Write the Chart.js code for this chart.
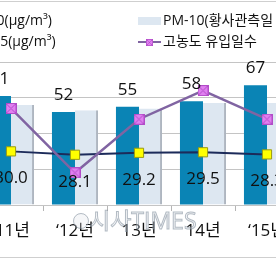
<!DOCTYPE html>
<html lang="ko">
<head>
<meta charset="UTF-8">
<title>PM-10 / PM-2.5</title>
<script src="https://cdn.jsdelivr.net/npm/chart.js"></script>
<style>
    body { margin: 0; width: 276px; height: 260px; overflow: hidden; background: #fff; position: relative; }
    #wrap { position: absolute; left: -21px; top: 0; width: 320px; height: 260px; }
    .rule { position: absolute; left: 0; width: 276px; height: 1px; background: #cfcfcf; }
</style>
</head>
<body>
<div class="rule" style="top:1px"></div>
<div id="wrap"><canvas id="chart" width="320" height="260"></canvas></div>
<div class="rule" style="top:257px"></div>

<script>
// data
const years = ['‘11년', '‘12년', '13년', '14년', '‘15년'];
const pm10 = [61, 52, 55, 58, 67];
const pm10NoDust = [56, 53, 54, 57, 57];
const pm25 = [30.0, 28.1, 29.2, 29.5, 28.3];
const highDays = [13.5, 4.5, 12, 16, 12];

const OFF = 21;   // canvas starts 21px left of the page
const FONT = "'Open Sans', 'Noto Sans CJK KR', sans-serif";

// magenta square with an X, for the 고농도 line
function xMarker() {
    const c = document.createElement('canvas');
    c.width = 11; c.height = 11;
    const g = c.getContext('2d');
    g.fillStyle = '#e07ff0';
    g.fillRect(0, 0, 11, 11);
    g.strokeStyle = '#b24cc8';
    g.lineWidth = 1;
    g.strokeRect(0.5, 0.5, 10, 10);
    g.beginPath();
    g.moveTo(1, 1); g.lineTo(10, 10);
    g.moveTo(10, 1); g.lineTo(1, 10);
    g.stroke();
    return c;
}
const mark = xMarker();

const valueLabels = {
    id: 'valueLabels',
    afterDatasetsDraw(chart) {
        const ctx = chart.ctx;
        ctx.save();
        ctx.font = '17px ' + FONT;
        ctx.fillStyle = '#111';
        ctx.textAlign = 'center';
        ctx.textBaseline = 'middle';
        chart.getDatasetMeta(0).data.forEach((el, i) => {
            ctx.fillText(pm10[i], el.x, el.y - 17);
        });
        chart.getDatasetMeta(2).data.forEach((el, i) => {
            ctx.fillText(pm25[i].toFixed(1), el.x, el.y + 27);
        });
        ctx.restore();
    }
};

const legendAndMark = {
    id: 'legendAndMark',
    afterDraw(chart) {
        const ctx = chart.ctx;
        ctx.save();
        ctx.font = '14px ' + FONT;
        ctx.fillStyle = '#111';
        ctx.textBaseline = 'middle';
        const ds = chart.data.datasets;

        // left column
        const w1 = ctx.measureText(ds[0].label).width;
        const lx = 52 + OFF - w1;
        ctx.fillStyle = ds[0].backgroundColor;
        ctx.fillRect(lx - 26, 17, 23, 8);
        ctx.fillStyle = '#111';
        ctx.fillText(ds[0].label, lx, 21);
        ctx.strokeStyle = ds[2].borderColor;
        ctx.lineWidth = 2;
        ctx.beginPath(); ctx.moveTo(lx - 26, 42); ctx.lineTo(lx - 3, 42); ctx.stroke();
        ctx.fillText(ds[2].label, lx, 42);

        // right column
        const rx = 138 + OFF;
        ctx.fillStyle = ds[1].backgroundColor;
        ctx.fillRect(rx, 17, 23, 8);
        ctx.fillStyle = '#111';
        ctx.fillText(ds[1].label, rx + 25, 21);
        ctx.strokeStyle = ds[3].borderColor;
        ctx.lineWidth = 2;
        ctx.beginPath(); ctx.moveTo(rx, 42); ctx.lineTo(rx + 23, 42); ctx.stroke();
        ctx.drawImage(mark, rx + 8, 39, 7, 7);
        ctx.fillStyle = '#111';
        ctx.fillText(ds[3].label, rx + 25, 42);

        // watermark
        ctx.strokeStyle = 'rgba(120,135,150,0.55)';
        ctx.fillStyle = 'rgba(225,230,235,0.35)';
        ctx.lineWidth = 1;
        ctx.beginPath(); ctx.arc(81 + OFF, 221, 7.5, 0, Math.PI * 2); ctx.fill(); ctx.stroke();
        ctx.font = '23px ' + FONT;
        ctx.fillText('시사TIMES', 89 + OFF, 222);
        ctx.strokeText('시사TIMES', 89 + OFF, 222);
        ctx.restore();
    }
};

new Chart(document.getElementById('chart'), {
    data: {
        labels: years,
        datasets: [
            {
                type: 'bar', label: 'PM-10(μg/m³)', data: pm10,
                backgroundColor: '#0a84b5', order: 3,
                categoryPercentage: 0.72, barPercentage: 1
            },
            {
                type: 'bar', label: 'PM-10(황사관측일 제외)', data: pm10NoDust,
                backgroundColor: '#dde7f1', borderColor: '#aeb6c0',
                borderWidth: { right: 2, left: 0, top: 0, bottom: 0 }, borderSkipped: false,
                order: 3, categoryPercentage: 0.72, barPercentage: 1
            },
            {
                type: 'line', label: 'PM-2.5(μg/m³)', data: pm25,
                borderColor: '#1c2b5a', borderWidth: 2,
                pointStyle: 'rect', pointRadius: 6.5,
                pointBackgroundColor: '#ffff00', pointBorderColor: '#9a9a10', pointBorderWidth: 1,
                order: 1
            },
            {
                type: 'line', label: '고농도 유입일수', data: highDays, yAxisID: 'y1',
                borderColor: '#8064a2', borderWidth: 2.5,
                pointStyle: mark,
                order: 0
            }
        ]
    },
    options: {
        responsive: false,
        animation: false,
        events: [],
        layout: { autoPadding: false, padding: { top: 62, left: 0, right: 0, bottom: 0 } },
        plugins: { legend: { display: false }, tooltip: { enabled: false } },
        scales: {
            x: {
                grid: { drawOnChartArea: false, drawTicks: true, tickLength: 6, color: '#b5b5b5', offset: true },
                border: { color: '#c4c4c4' },
                ticks: { font: { size: 17, family: FONT }, color: '#111', padding: 10, maxRotation: 0 },
                afterFit(s) { s.height = 55; s.paddingLeft = 0; s.paddingRight = 0; }
            },
            y: {
                min: 0, max: 80,
                ticks: { display: false, stepSize: 20 },
                grid: { color: '#c4c4c4', drawTicks: false },
                border: { display: false },
                afterFit(s) { s.width = 0; }
            },
            y1: { display: false, min: 0, max: 20 }
        }
    },
    plugins: [valueLabels, legendAndMark]
});
</script>
</body>
</html>
